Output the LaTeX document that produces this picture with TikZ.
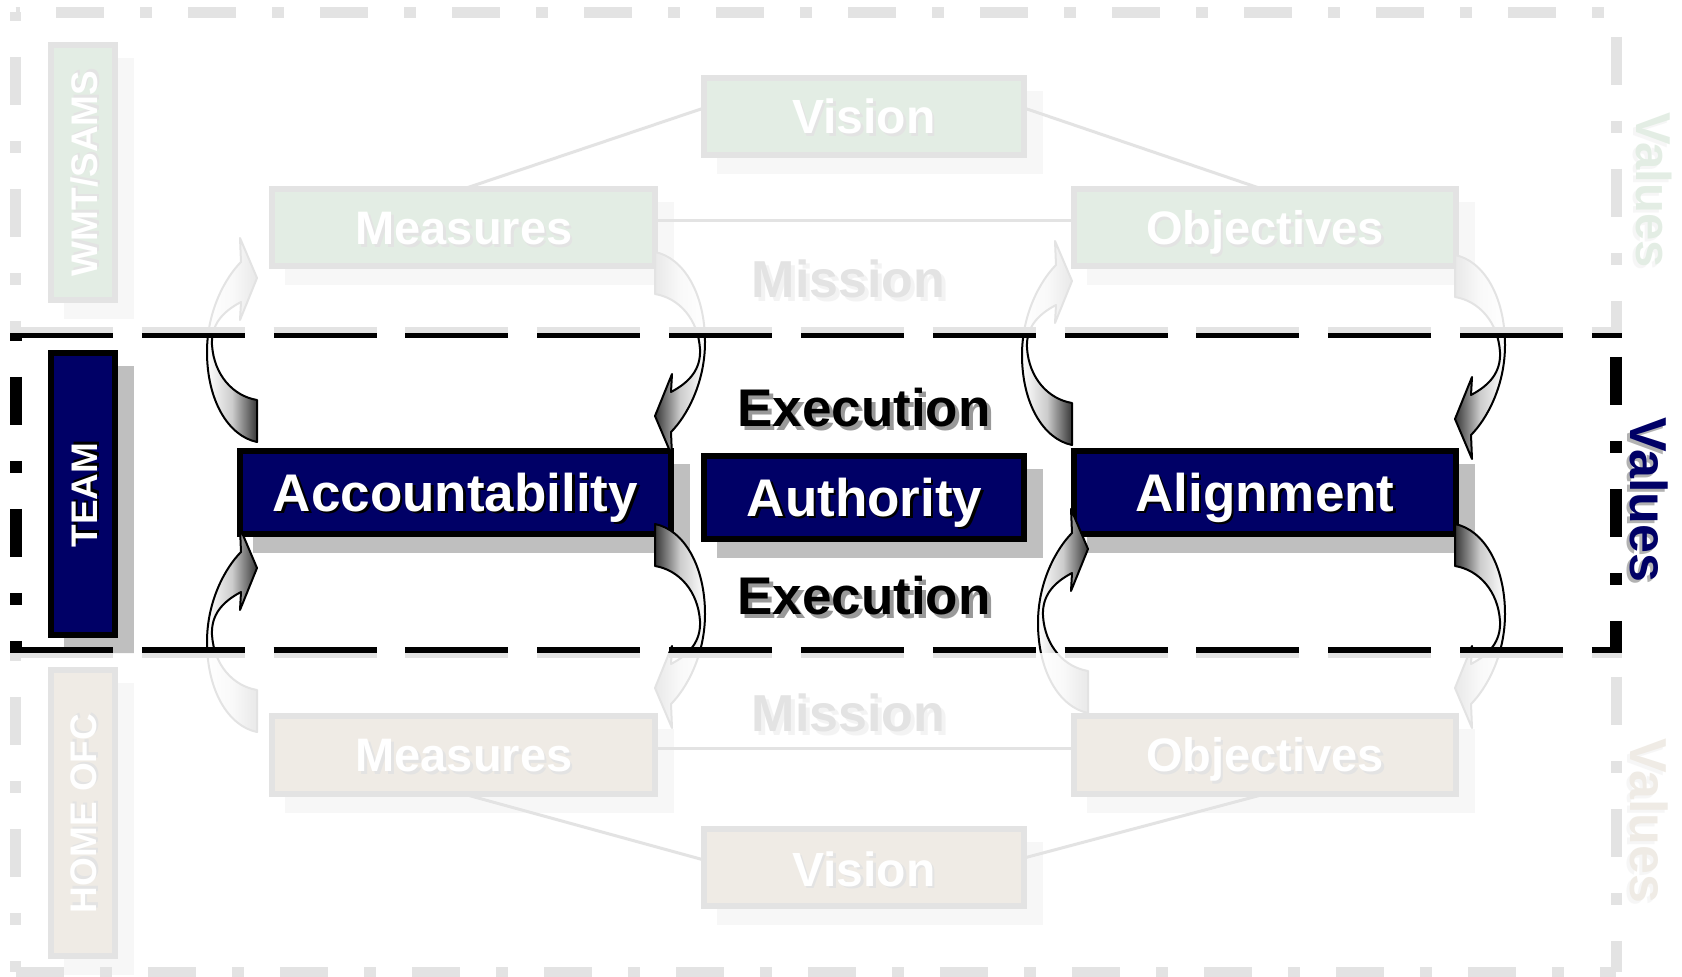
\documentclass[tikz,border=0pt]{standalone}
\usepackage{fontspec}
\setmainfont{Liberation Sans}
\usetikzlibrary{calc}
\definecolor{navy}{RGB}{0,0,102}
\definecolor{dgreen}{RGB}{0,100,10}
\definecolor{dbrown}{RGB}{110,75,20}
\definecolor{shd}{RGB}{191,191,191}
\definecolor{arrdark}{RGB}{55,55,55}
\newcommand\fsz[1]{\fontsize{#1pt}{#1pt}\selectfont\bfseries}
\tikzset{
  boxst/.style={draw=black, line width=3pt, inner sep=0pt, outer sep=0pt, rectangle},
  lbl/.style={anchor=base, inner sep=0pt, outer sep=0pt},
  conn/.style={draw=black, line width=1.5pt},
  arrst/.style={draw=black, line width=1pt, line join=round},
  frg/.style={line width=5.5pt, dash pattern=on 24pt off 18pt on 6pt off 18pt},
  frv/.style={line width=6pt, dash pattern=on 24pt off 18pt on 6pt off 18pt},
  frh/.style={line width=5.5pt, dash pattern=on 51.5pt off 14.415pt},
  veil/.style={fill=white, opacity=0.89}
}
\newcommand\boxnode[6]{%
  \fill[shd] (#2+16,#3+16) rectangle (#4+16,#5+16);
  \pgfmathsetmacro\bxw{(#4-#2-6)*0.5}%
  \pgfmathsetmacro\bxh{(#5-#3-6)*0.5}%
  \node[boxst, fill=#6, minimum width=\bxw pt, minimum height=\bxh pt] (#1) at ({(#2+#4)/2},{(#3+#5)/2}) {};
}
% name, x, y, size(pt), colour, shadow colour, shadow offset(pt), rotation, text
\newcommand\stext[9]{%
  \node[lbl, rotate=#8, text=#5, font=\fsz{#4}] (#1) at (#2,#3)
    {\rlap{\hspace*{#7pt}\raisebox{-#7pt}{\textcolor{#6}{#9}}}#9};
}
\newcommand\arrowA[2]{%
  \begin{scope}[shift={(#1,#2)}]
    \shadedraw[arrst, left color=white, right color=arrdark, middle color=white!80!black]
      (257,442) .. controls (228,436) and (207,400) .. (207,352)
      .. controls (207,310) and (226,277) .. (241,262)
      -- (240,238) -- (257,278) -- (240,320) -- (241,302)
      .. controls (222,312) and (211,325) .. (212,345)
      .. controls (214,375) and (233,396) .. (257,400) -- cycle;
  \end{scope}}
\newcommand\arrowB[2]{%
  \begin{scope}[shift={(#1,#2)}]
    \shadedraw[arrst, left color=arrdark, right color=white, middle color=white!80!black]
      (655,252) .. controls (684,258) and (705,294) .. (705,342)
      .. controls (705,384) and (686,417) .. (671,432)
      -- (672,456) -- (655,416) -- (672,374) -- (671,392)
      .. controls (690,382) and (701,369) .. (700,349)
      .. controls (698,319) and (679,298) .. (655,294) -- cycle;
  \end{scope}}
\begin{document}
\begin{tikzpicture}[x=0.5pt, y=-0.5pt]
\useasboundingbox (0,0) rectangle (1682,977);
\fill[white] (0,0) rectangle (1682,977);

% ---------- upper copy ----------
\boxnode{wmt}{48}{42}{118}{303}{dgreen}
\boxnode{visU}{701}{75}{1027}{158}{dgreen}
\boxnode{meaU}{269}{186}{658}{269}{dgreen}
\boxnode{objU}{1071}{186}{1459}{269}{dgreen}
\draw[conn] ($(visU.west)+(0,-8.5)$) -- (meaU.north);
\draw[conn] ($(visU.east)+(0,-8.5)$) -- ($(objU.north)+(-3,0)$);
\draw[conn] ($(meaU.east)+(0,-6.5)$) -- ($(objU.west)+(0,-6.5)$);
\stext{wmtT}{97}{173.5}{18.5}{white}{black}{1.25}{90}{WMT/SAMS}
\stext{visUT}{864}{134}{24}{white}{black}{1.25}{0}{Vision}
\stext{meaUT}{464}{245}{23.5}{white}{black}{1.25}{0}{Measures}
\stext{objUT}{1265}{245}{23.5}{white}{black}{1.25}{0}{Objectives}
\stext{misUT}{848.5}{298}{26}{black}{black!40}{2}{0}{Mission}
\stext{valUT}{1636}{190}{24.5}{dgreen}{black!30}{1.5}{-90}{Values}

% ---------- lower copy ----------
\boxnode{home}{48}{667}{118}{959}{dbrown}
\boxnode{meaL}{269}{713}{658}{797}{dbrown}
\boxnode{objL}{1071}{713}{1459}{797}{dbrown}
\boxnode{visL}{701}{826}{1027}{909}{dbrown}
\draw[conn] ($(meaL.east)+(0,-6)$) -- ($(objL.west)+(0,-6)$);
\draw[conn] (meaL.south) -- ($(visL.west)+(0,-7.5)$);
\draw[conn] (objL.south) -- ($(visL.east)+(0,-9.5)$);
\stext{homeT}{96}{813.5}{18.5}{white}{black}{1.25}{90}{HOME OFC}
\stext{meaLT}{464}{772}{23.5}{white}{black}{1.25}{0}{Measures}
\stext{objLT}{1265}{772}{23.5}{white}{black}{1.25}{0}{Objectives}
\stext{visLT}{864}{886}{24}{white}{black}{1.25}{0}{Vision}
\stext{misLT}{848.5}{732}{26}{black}{black!40}{2}{0}{Mission}
\stext{valLT}{1630}{821}{26}{dbrown}{black!30}{1.5}{-90}{Values}

% ---------- middle band ----------
\boxnode{team}{48}{350}{118}{638}{navy}
\boxnode{acc}{237}{448}{674}{537}{navy}
\boxnode{aut}{701}{453}{1027}{542}{navy}
\boxnode{ali}{1071}{448}{1459}{537}{navy}
\stext{teamT}{97}{495}{18.5}{white}{black}{1.25}{90}{TEAM}
\stext{accT}{455.5}{511.5}{26.5}{white}{black}{1.25}{0}{Accountability}
\stext{autT}{864.5}{516.5}{26.5}{white}{black}{1.25}{0}{Authority}
\stext{aliT}{1265}{511.5}{26.5}{white}{black}{1.25}{0}{Alignment}
\stext{exUT}{864}{427}{26.5}{black}{black!40}{2}{0}{Execution}
\stext{exLT}{864}{615}{26.5}{black}{black!40}{2}{0}{Execution}
\stext{valMT}{1630}{500}{26}{navy}{black!30}{1.5}{-90}{Values}

% ---------- curved arrows ----------
\arrowA{0}{0}
\arrowA{0}{290}
\arrowA{815}{3}
\arrowA{831}{271}
\arrowB{0}{0}
\arrowB{0}{272}
\arrowB{800}{3}
\arrowB{800}{272}

% ---------- frames ----------
\draw[frg, dash phase=43.75pt] (15.5,12.5) -- (15.5,333);
\draw[frg, dash phase=45.75pt] (15.5,12.5) -- (1616,12.5);
\draw[frg, dash phase=53.75pt] (1616,12.5) -- (1616,333);
\draw[frg, dash phase=44pt] (15.5,653) -- (15.5,972);
\draw[frg, dash phase=65.75pt] (15.5,972) -- (1616,972);
\draw[frg, dash phase=54pt] (1616,653) -- (1616,972);
\draw[frh] (10,333) -- (1622,333);
\draw[frh] (10,653) -- (1622,653);
\draw[frv, dash phase=44pt] (16,333) -- (16,653);
\draw[frv, dash phase=54pt] (1616,333) -- (1616,653);

% ---------- fading veils ----------
\fill[veil] (0,0) rectangle (1682,333);
\fill[veil] (0,653) rectangle (1682,977);
\end{tikzpicture}
\end{document}
